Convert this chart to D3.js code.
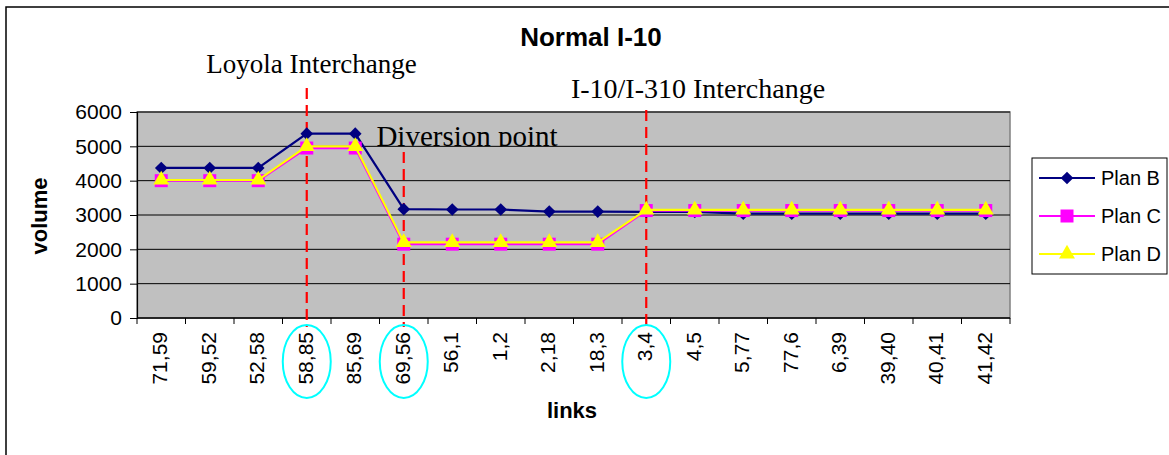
<!DOCTYPE html>
<html><head><meta charset="utf-8">
<script src="https://cdn.jsdelivr.net/npm/d3@7/dist/d3.min.js"></script>
<style>body{margin:0;background:#fff}svg{display:block}</style>
</head><body>
<svg id="chart" width="1169" height="455"></svg>
<script>
const categories = ["71,59","59,52","52,58","58,85","85,69","69,56","56,1","1,2","2,18","18,3","3,4","4,5","5,77","77,6","6,39","39,40","40,41","41,42"];
const planB = [4370,4370,4370,5370,5370,3170,3160,3160,3100,3100,3090,3090,3040,3040,3040,3040,3040,3040];
const planC = [4000,4000,4000,4950,4950,2150,2150,2150,2150,2150,3130,3130,3130,3130,3130,3130,3130,3130];
const planD = [4020,4020,4020,5000,5000,2200,2200,2200,2200,2200,3150,3150,3150,3150,3150,3150,3150,3150];
const yTicks = [0,1000,2000,3000,4000,5000,6000];
const seriesNames = ["Plan B","Plan C","Plan D"];
const markedLinks = ["58,85","69,56","3,4"];
const annotations = ["Loyola Interchange","Diversion point","I-10/I-310 Interchange"];

const svg = d3.select("#chart");
const L = 137, R = 1010, T = 112, B = 318;
const x = d3.scaleBand().domain(categories).range([L, R]).paddingInner(0).paddingOuter(0);
const y = d3.scaleLinear().domain([0, 6000]).range([B, T]);
const cx = c => x(c) + x.bandwidth() / 2;
const SANS = "Arial, 'Liberation Sans', sans-serif";
const SERIF = "'Times New Roman', 'Liberation Serif', serif";

// outer border
svg.append("path").attr("d", "M6,455V7H1169").attr("fill", "none").attr("stroke", "#000").attr("stroke-width", 1.5);

// plot area
svg.append("rect").attr("x", L).attr("y", T).attr("width", R - L).attr("height", B - T)
  .attr("fill", "#C0C0C0").attr("stroke", "#808080").attr("stroke-width", 1.5);

// gridlines
svg.append("g").selectAll("line").data(yTicks.filter(d => d > 0)).join("line")
  .attr("x1", L).attr("x2", R).attr("y1", d => y(d)).attr("y2", d => y(d))
  .attr("stroke", "#000").attr("stroke-width", 1);

// y axis
const yAxis = svg.append("g").attr("transform", `translate(${L},0)`)
  .call(d3.axisLeft(y).tickValues(yTicks).tickSize(7).tickPadding(8).tickFormat(d3.format("d")));
yAxis.select(".domain").attr("stroke", "#000").attr("stroke-width", 1.2);
yAxis.selectAll("text").attr("font-family", SANS).attr("font-size", 21).attr("fill", "#000");

// x axis
svg.append("line").attr("x1", L).attr("x2", R).attr("y1", B).attr("y2", B).attr("stroke", "#000").attr("stroke-width", 1.5);
const bounds = categories.map(c => x(c)).concat([R]);
svg.append("g").selectAll("line").data(bounds).join("line")
  .attr("x1", d => d).attr("x2", d => d).attr("y1", B).attr("y2", B + 6).attr("stroke", "#000");
svg.append("g").selectAll("text").data(categories).join("text")
  .attr("transform", d => `translate(${cx(d) + 6},${332}) rotate(-90)`)
  .attr("text-anchor", "end")
  .attr("font-family", SANS).attr("font-size", 21).attr("fill", "#000")
  .text(d => d);

// title & axis titles
svg.append("text").attr("x", 591).attr("y", 46).attr("text-anchor", "middle")
  .attr("font-family", SANS).attr("font-weight", "bold").attr("font-size", 26).text("Normal I-10");
svg.append("text").attr("transform", "translate(47,216) rotate(-90)").attr("text-anchor", "middle")
  .attr("font-family", SANS).attr("font-weight", "bold").attr("font-size", 22).text("volume");
svg.append("text").attr("x", 572).attr("y", 418).attr("text-anchor", "middle")
  .attr("font-family", SANS).attr("font-weight", "bold").attr("font-size", 22).text("links");

// red dashed lines
const dashTops = [88, 152, 110];
svg.append("g").selectAll("line").data(markedLinks).join("line")
  .attr("x1", d => cx(d)).attr("x2", d => cx(d))
  .attr("y1", (d, i) => dashTops[i]).attr("y2", 327)
  .attr("stroke", "#FF0000").attr("stroke-width", 2.2).attr("stroke-dasharray", "11,6");

// cyan ellipses
svg.append("g").selectAll("ellipse").data(markedLinks).join("ellipse")
  .attr("cx", d => cx(d)).attr("cy", 361.5).attr("rx", 24).attr("ry", 36.5)
  .attr("fill", "none").attr("stroke", "#00FFFF").attr("stroke-width", 2);

// series
const series = [
  {name: seriesNames[0], values: planB, color: "#000080", sym: d3.symbolSquare, size: 80, rot: 45},
  {name: seriesNames[1], values: planC, color: "#FF00FF", sym: d3.symbolSquare, size: 169, rot: 0},
  {name: seriesNames[2], values: planD, color: "#FFFF00", sym: d3.symbolTriangle, size: 110, rot: 0}
];
const line = d3.line().x((d, i) => cx(categories[i])).y(d => y(d));
series.forEach(s => {
  svg.append("path").attr("d", line(s.values)).attr("fill", "none").attr("stroke", s.color).attr("stroke-width", 2.2);
  svg.append("g").selectAll("path").data(s.values).join("path")
    .attr("transform", (d, i) => `translate(${cx(categories[i])},${y(d)}) rotate(${s.rot})`)
    .attr("d", d3.symbol().type(s.sym).size(s.size)).attr("fill", s.color);
});

// annotations
svg.append("clipPath").attr("id", "divclip").append("rect").attr("x", 300).attr("y", 100).attr("width", 300).attr("height", 46.5);
const annPos = [[311.5, 73], [467, 146], [698, 98]];
const annSize = [27, 29, 28];
svg.append("g").selectAll("text").data(annotations).join("text")
  .attr("x", (d, i) => annPos[i][0]).attr("y", (d, i) => annPos[i][1]).attr("text-anchor", "middle")
  .attr("font-family", SERIF).attr("font-size", (d, i) => annSize[i]).attr("fill", "#000")
  .attr("clip-path", (d, i) => i === 1 ? "url(#divclip)" : null)
  .text(d => d);

// legend
const lg = svg.append("g");
lg.append("rect").attr("x", 1032).attr("y", 158).attr("width", 135).attr("height", 116)
  .attr("fill", "#fff").attr("stroke", "#000").attr("stroke-width", 1);
const ly = [178, 216, 254];
series.forEach((s, i) => {
  lg.append("line").attr("x1", 1039).attr("x2", 1095).attr("y1", ly[i]).attr("y2", ly[i]).attr("stroke", s.color).attr("stroke-width", 2);
  lg.append("path").attr("transform", `translate(1067,${ly[i]}) rotate(${s.rot})`).attr("d", d3.symbol().type(s.sym).size(s.size)).attr("fill", s.color);
  lg.append("text").attr("x", 1101).attr("y", ly[i] + 7).attr("font-family", SANS).attr("font-size", 20).text(s.name);
});
</script>
</body></html>
